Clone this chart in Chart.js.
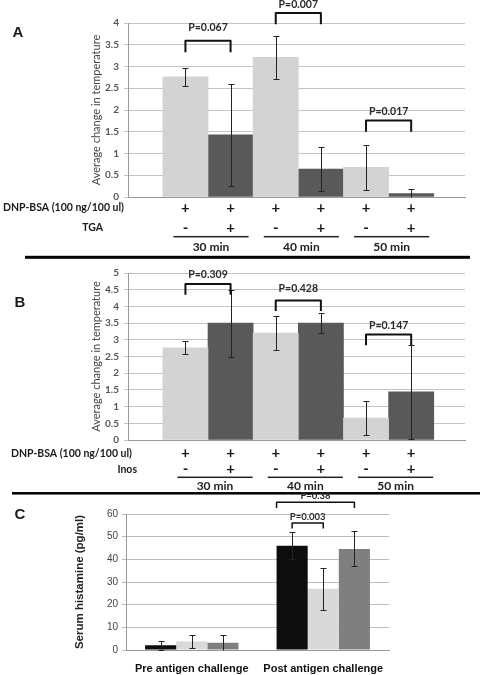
<!DOCTYPE html>
<html lang="en">
<head>
  <meta charset="UTF-8">
  <title>Temperature change and serum histamine</title>
  <script src="https://cdn.jsdelivr.net/npm/chart.js"></script>
  <style>
    body { margin: 0; background: #fff; }
    .panel { position: absolute; left: 0; }
  </style>
</head>
<body>
  <canvas id="chartA" class="panel" width="480" height="262" style="top:0"></canvas>
  <canvas id="chartB" class="panel" width="480" height="233" style="top:262px"></canvas>
  <canvas id="chartC" class="panel" width="480" height="185" style="top:490px"></canvas>

  <script>
    // shared x positions / labels for panels A and B
    const timeLabels = ['30 min', '40 min', '50 min'];
    const groupPos = [0, 1, 2];
    const dnpSigns = ['+', '+', '+', '+', '+', '+'];
    const drugSigns = ['-', '+', '-', '+', '-', '+'];

    // panel A - TGA
    const tgaControl = [2.76, 3.21, 0.68];
    const tgaControlErr = [0.2, 0.5, 0.52];
    const tgaTreated = [1.43, 0.64, 0.08];
    const tgaTreatedErr = [1.17, 0.5, 0.11];
    const tgaP = ['P=0.067', 'P=0.007', 'P=0.017'];
    const tgaBracketY = [3.59, 4.23, 1.76];

    // panel B - Inos
    const inosControl = [2.76, 3.2, 0.66];
    const inosControlErr = [0.2, 0.5, 0.52];
    const inosTreated = [3.5, 3.5, 1.44];
    const inosTreatedErr = [1.0, 0.3, 1.41];
    const inosP = ['P=0.309', 'P=0.428', 'P=0.147'];
    const inosBracketY = [4.67, 4.18, 3.16];

    // panel C - serum histamine
    const histLabels = ['Pre antigen challenge', 'Post antigen challenge'];
    const histBlack = [2.1, 46.0];
    const histBlackErr = [2.0, 5.9];
    const histLight = [3.8, 27.0];
    const histLightErr = [3.0, 9.2];
    const histGray = [3.2, 44.6];
    const histGrayErr = [3.6, 7.7];

    Chart.defaults.font.family = 'Lato, "Open Sans", sans-serif';

    function dataValue(d) {
      return typeof d === 'object' ? d.y : d;
    }

    // error bars read from dataset.errors
    const errorBarPlugin = {
      id: 'errorBars',
      afterDatasetsDraw(chart, args, opts) {
        const ctx = chart.ctx;
        const y = chart.scales.y;
        ctx.save();
        ctx.strokeStyle = opts.color || '#222';
        ctx.lineWidth = 1;
        chart.data.datasets.forEach((ds, d) => {
          if (!ds.errors) return;
          chart.getDatasetMeta(d).data.forEach((bar, i) => {
            const v = dataValue(ds.data[i]);
            const e = ds.errors[i];
            const x = Math.round(bar.x) + 0.5;
            const hi = Math.round(y.getPixelForValue(v + e)) + 0.5;
            const lo = Math.round(y.getPixelForValue(Math.max(0, v - e))) + 0.5;
            const c = opts.cap || 3;
            ctx.beginPath();
            ctx.moveTo(x, hi); ctx.lineTo(x, lo);
            ctx.moveTo(x - c, hi); ctx.lineTo(x + c, hi);
            if (v - e >= 0) { ctx.moveTo(x - c, lo); ctx.lineTo(x + c, lo); }
            ctx.stroke();
          });
        });
        ctx.restore();
      }
    };

    // significance brackets
    const bracketPlugin = {
      id: 'brackets',
      afterDatasetsDraw(chart, args, opts) {
        const ctx = chart.ctx;
        const y = chart.scales.y;
        ctx.save();
        ctx.strokeStyle = '#111';
        ctx.fillStyle = '#2a2a2a';
        ctx.lineWidth = opts.lineWidth || 2;
        ctx.lineJoin = 'round';
        ctx.font = opts.font;
        ctx.textAlign = 'center';
        ctx.textBaseline = 'middle';
        (opts.items || []).forEach(b => {
          const pa = chart.getDatasetMeta(b.from[0]).data[b.from[1]];
          const pb = chart.getDatasetMeta(b.to[0]).data[b.to[1]];
          const x1 = pa.x + (b.from[2] || 0) * pa.width;
          const x2 = pb.x + (b.to[2] || 0) * pb.width;
          const top = y.getPixelForValue(b.y);
          const foot = y.getPixelForValue(b.y - b.drop);
          ctx.beginPath();
          ctx.moveTo(x1, foot); ctx.lineTo(x1, top); ctx.lineTo(x2, top); ctx.lineTo(x2, foot);
          ctx.stroke();
          ctx.fillText(b.text, (x1 + x2) / 2, top - b.lift);
        });
        ctx.restore();
      }
    };

    // +/- rows under the bars, time groups, separator, panel letter
    const rowsPlugin = {
      id: 'rows',
      afterDraw(chart, args, o) {
        const ctx = chart.ctx;
        const bottom = chart.chartArea.bottom;
        ctx.save();
        ctx.fillStyle = '#1a1a1a';
        ctx.textBaseline = 'middle';
        if (o.letter) {
          ctx.font = 'bold 15px Arial, "Liberation Sans"';
          ctx.textAlign = 'center';
          ctx.fillText(o.letter.text, o.letter.x, o.letter.y);
        }
        if (o.rows) {
          const m0 = chart.getDatasetMeta(0).data;
          const m1 = chart.getDatasetMeta(1).data;
          o.rows.forEach((row, r) => {
            const ry = bottom + o.rowY[r];
            ctx.font = 'bold 10.5px Lato';
            ctx.textAlign = 'right';
            ctx.fillText(row.label, row.labelX, ry);
            ctx.font = 'bold 15px Lato';
            ctx.textAlign = 'center';
            row.signs.forEach((s, k) => {
              const bar = chart.getDatasetMeta(k % 2).data[Math.floor(k / 2)];
              ctx.fillText(s, bar.x, ry);
            });
          });
          ctx.font = 'bold 12px Lato';
          ctx.fillStyle = '#222';
          o.groups.forEach((g, i) => {
            const x1 = m0[i].x + o.lineFrom;
            const x2 = m1[i].x + o.lineTo;
            ctx.fillRect(x1, bottom + o.lineY - 0.75, x2 - x1, 1.5);
            ctx.fillText(g, (x1 + x2) / 2, bottom + o.groupY);
          });
          ctx.fillStyle = '#000';
          ctx.fillRect(o.sepX[0], bottom + o.sepY - o.sepW / 2, o.sepX[1] - o.sepX[0], o.sepW);
        }
        ctx.restore();
      }
    };

    function tempChart(id, cfg) {
      return new Chart(document.getElementById(id), {
        type: 'bar',
        data: {
          datasets: [
            {
              data: groupPos.map((g, i) => ({ x: g, y: cfg.control[i] })),
              errors: cfg.controlErr,
              backgroundColor: '#d3d3d3',
              categoryPercentage: 1,
              barPercentage: 1
            },
            {
              data: groupPos.map((g, i) => ({ x: g, y: cfg.treated[i] })),
              errors: cfg.treatedErr,
              backgroundColor: '#595959',
              categoryPercentage: 1,
              barPercentage: 1
            }
          ]
        },
        options: {
          responsive: false,
          animation: false,
          layout: { padding: { left: 90, right: 15, top: cfg.top, bottom: cfg.bottom } },
          plugins: {
            legend: { display: false },
            tooltip: { enabled: false },
            errorBars: { cap: 3, color: '#222' },
            brackets: {
              font: 'bold 10.5px Lato',
              lineWidth: 2,
              items: cfg.p.map((t, i) => ({
                from: [0, i, 0], to: [1, i, 0], y: cfg.bracketY[i], drop: cfg.drop, lift: cfg.lift[i], text: t
              }))
            },
            rows: {
              letter: cfg.letter,
              rows: [
                { label: 'DNP-BSA (100 ng/100 ul)', labelX: cfg.labelX[0], signs: dnpSigns },
                { label: cfg.drug, labelX: cfg.labelX[1], signs: drugSigns }
              ],
              rowY: cfg.rowY,
              lineY: cfg.lineY,
              groupY: cfg.groupY,
              lineFrom: cfg.lineFrom,
              lineTo: cfg.lineTo,
              groups: timeLabels,
              sepY: cfg.sepY,
              sepX: cfg.sepX,
              sepW: cfg.sepW
            }
          },
          scales: {
            x: {
              type: 'linear',
              min: -0.886,
              max: 2.846,
              offset: false,
              grid: { display: false, offset: false },
              ticks: { display: false, stepSize: 1, includeBounds: false },
              border: { color: '#999' },
              afterFit(s) { s.height = 0; }
            },
            y: {
              min: 0,
              max: cfg.yMax,
              ticks: {
                stepSize: 0.5,
                color: '#555',
                font: { size: 10, weight: 'bold' },
                padding: 5,
                callback: v => String(v)
              },
              grid: { color: '#c4c4c4', tickLength: 4 },
              border: { color: '#999' },
              title: {
                display: true,
                text: 'Average change in temperature',
                color: '#444',
                font: { size: 11 },
                padding: 0
              },
              afterFit(s) { s.width = 38; }
            }
          }
        },
        plugins: [errorBarPlugin, bracketPlugin, rowsPlugin]
      });
    }

    tempChart('chartA', {
      control: tgaControl, controlErr: tgaControlErr,
      treated: tgaTreated, treatedErr: tgaTreatedErr,
      p: tgaP, bracketY: tgaBracketY, drop: 0.26, lift: [13, 8, 9],
      drug: 'TGA', labelX: [124, 103], yMax: 4, top: 23, bottom: 65,
      rowY: [10.7, 30.7], lineY: 39.7, groupY: 50.3, lineFrom: -12, lineTo: 18,
      sepY: 60.3, sepX: [25, 470], sepW: 3,
      letter: { text: 'A', x: 18, y: 33 }
    });

    tempChart('chartB', {
      control: inosControl, controlErr: inosControlErr,
      treated: inosTreated, treatedErr: inosTreatedErr,
      p: inosP, bracketY: inosBracketY, drop: 0.32, lift: [9, 12, 9],
      drug: 'Inos', labelX: [132, 137], yMax: 5, top: 7, bottom: 55,
      rowY: [13.3, 29.3], lineY: 37.3, groupY: 46, lineFrom: -8, lineTo: 22,
      sepY: 53.3, sepX: [12, 480], sepW: 2.5,
      letter: { text: 'B', x: 20, y: 41 }
    });

    new Chart(document.getElementById('chartC'), {
      type: 'bar',
      data: {
        labels: histLabels,
        datasets: [
          { data: histBlack, errors: histBlackErr, backgroundColor: '#0d0d0d' },
          { data: histLight, errors: histLightErr, backgroundColor: '#d9d9d9' },
          { data: histGray, errors: histGrayErr, backgroundColor: '#7f7f7f' }
        ]
      },
      options: {
        responsive: false,
        animation: false,
        datasets: { bar: { categoryPercentage: 0.71, barPercentage: 1 } },
        layout: { padding: { left: 73, right: 91, top: 24, bottom: 0 } },
        plugins: {
          legend: { display: false },
          tooltip: { enabled: false },
          errorBars: { cap: 3, color: '#222' },
          brackets: {
            font: 'bold 9.5px Lato',
            lineWidth: 1.5,
            items: [
              { from: [0, 1, 0], to: [1, 1, 0], y: 56, drop: 2.4, lift: 6.5, text: 'P=0.003' },
              { from: [0, 1, -0.5], to: [2, 1, 0], y: 65.2, drop: 2.5, lift: 6.5, text: 'P=0.38' }
            ]
          },
          rows: { letter: { text: 'C', x: 20, y: 25 } }
        },
        scales: {
          x: {
            grid: { display: false, drawTicks: false },
            border: { color: '#999' },
            ticks: {
              color: '#111',
              font: { family: 'Arial, "Liberation Sans"', weight: 'bold', size: 11 },
              padding: 12,
              maxRotation: 0,
              minRotation: 0,
              autoSkip: false
            },
            afterFit(s) { s.height = 25; }
          },
          y: {
            min: 0,
            max: 60,
            ticks: {
              stepSize: 10,
              color: '#444',
              font: { family: 'Arial, "Liberation Sans"', size: 10 },
              padding: 4
            },
            grid: { color: '#bbb', tickLength: 4 },
            border: { color: '#999' },
            title: {
              display: true,
              text: 'Serum histamine (pg/ml)',
              color: '#222',
              font: { family: 'Arial, "Liberation Sans"', weight: 'bold', size: 11.5 },
              padding: 0
            },
            afterFit(s) { s.width = 53; }
          }
        }
      },
      plugins: [errorBarPlugin, bracketPlugin, rowsPlugin]
    });
  </script>
</body>
</html>
